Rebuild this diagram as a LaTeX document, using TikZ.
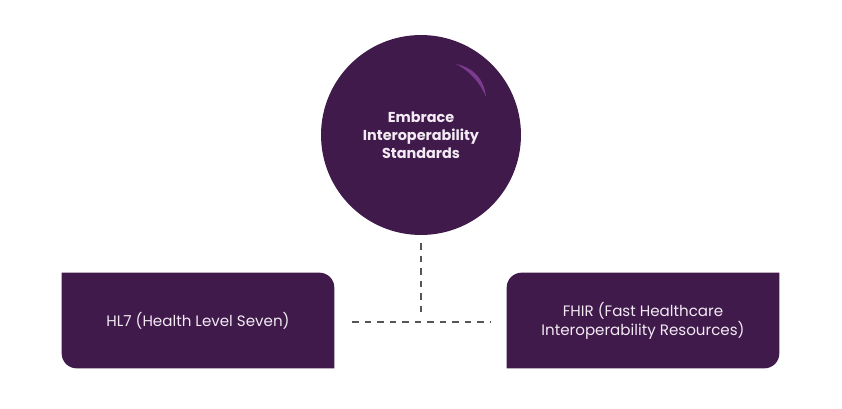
\documentclass[tikz,border=0pt]{standalone}
\usepackage{fontspec}
\setmainfont{Poppins}
\usetikzlibrary{positioning,backgrounds}
\definecolor{plum}{HTML}{3F1A4B}
\definecolor{orchid}{HTML}{7C3B8E}
\definecolor{dashgrey}{HTML}{555555}
\definecolor{softwhite}{HTML}{F3EAF3}

\begin{document}
\begin{tikzpicture}[x=0.02cm, y=-0.02cm,
  box/.style={minimum width=5.44cm, minimum height=1.9cm, align=center, text=softwhite, font=\fontsize{8.6}{10.8}\selectfont},
  link/.style={draw=dashgrey, line width=0.75pt, dash pattern=on 3.7pt off 3.4pt}]
\useasboundingbox (0,0) rectangle (842,409);
\node[circle, fill=plum, minimum size=4cm, align=center, text=softwhite, font=\bfseries\fontsize{8.2}{10.2}\selectfont] (hub) at (421,135)
{Embrace\\Interoperability\\Standards};
\fill[orchid] (456,64) .. controls (474,68) and (484,79) .. (486,97) .. controls (480,82.4) and (470,71.4) .. (456,64) -- cycle;
\node[box] (hl7) at (198,320.5) {HL7 (Health Level Seven)};
\node[box] (fhir) at (643,320.5) {FHIR (Fast Healthcare\\Interoperability Resources)};
\begin{pgfonlayer}{background}
\fill[plum] (hl7.north west) [rounded corners=8.5pt] -- (hl7.north east) [sharp corners] -- (hl7.south east) [rounded corners=8.5pt] -- (hl7.south west) [sharp corners] -- cycle;
\fill[plum] (fhir.north west) [sharp corners] -- (fhir.north east) [rounded corners=8.5pt] -- (fhir.south east) [sharp corners] -- (fhir.south west) [rounded corners=8.5pt] -- cycle;
\end{pgfonlayer}
\coordinate (joint) at (421,322);
\draw[link] ([yshift=-0.16cm]hub.south) -- ([yshift=0.18cm]joint);
\draw[link] ([xshift=0.36cm]hl7.east |- joint) -- ([xshift=-0.32cm]fhir.west |- joint);
\end{tikzpicture}
\end{document}
